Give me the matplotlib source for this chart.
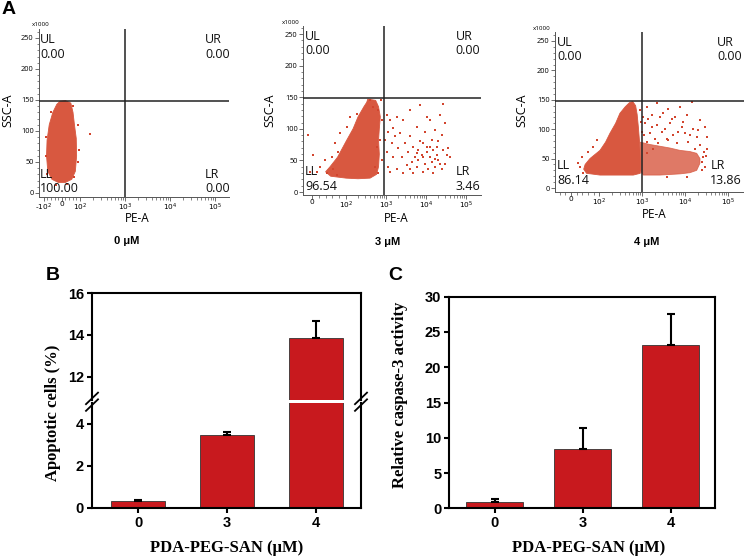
import numpy as np
import matplotlib
matplotlib.use("Agg")
import matplotlib.pyplot as plt
from matplotlib.ticker import FixedLocator, MultipleLocator

W, H = 744, 558

# ---------------- data ----------------
# Panel A: flow cytometry (PE-A vs SSC-A x1000)
conc_labels = ["0 μM", "3 μM", "4 μM"]
quad_ul = ["0.00", "0.00", "0.00"]
quad_ur = ["0.00", "0.00", "0.00"]
quad_ll = ["100.00", "96.54", "86.14"]
quad_lr = ["0.00", "3.46", "13.86"]
gate_ssc = 148
gate_pe = [1000, 910, 1000]

# dense cloud outlines (PE-A, SSC-A)
cloud0_pe = [-10, 20, 50, 62, 70, 80, 82, 75, 55, 20, -20, -55, -78, -85, -82, -70, -50, -28]
cloud0_ssc = [148, 149, 145, 130, 110, 88, 60, 35, 22, 17, 17, 22, 35, 60, 85, 110, 130, 143]

cloud1_pe = [350, 550, 650, 720, 680, 650, 680, 650, 580, 400, 200, 100, 55, 40, 53, 75, 104, 150, 200, 280, 330]
cloud1_ssc = [147, 145, 135, 119, 100, 82, 60, 40, 28, 22, 21, 22, 25, 32, 40, 55, 82, 100, 119, 135, 142]

cloud2_pe = [600, 700, 760, 810, 850, 880, 900, 900, 618, 250, 104, 55, 45, 50, 67, 104, 140, 177, 240, 302, 400, 500]
cloud2_ssc = [147, 140, 125, 104, 85, 70, 45, 25, 22, 22, 22, 25, 32, 40, 50, 64, 78, 93, 110, 127, 138, 145]

lr2_pe = [900, 1500, 2580, 4400, 7510, 12800, 18400, 22000, 21900, 18400, 12800, 7510, 2580, 1055, 900]
lr2_ssc = [78, 74, 71, 68, 64, 62, 59, 50, 42, 30, 26, 24, 22, 22, 30]

# sparse events (PE-A, SSC-A)
dots0_pe = [167, -90, -88, 95, 92, -62, 60, 88, -80, 30, -30, 70]
dots0_ssc = [95, 60, 90, 70, 110, 130, 140, 50, 30, 14, 13, 25]

dots1_pe = [1040, 1259, 1150, 1525, 1390, 1040, 1850, 2240, 2040, 1525, 1150, 1850, 2470, 2710,
            2990, 1259, 950, 1690, 3980, 7080, 12600, 27100, 22400, 29900, 5840, 9450, 16800,
            3980, 24600, 13900, 8580, 4820, 18500, 3610, 6420, 10400, 15200, 27100, 5300, 7780,
            12600, 18500, 32900, 4390, 6420, 9450, 13900, 20300, 29900, 3290, 5840, 11500, 16800,
            24600, 8580, 4820, 15200, 39800, 10400, 7080, 20300, 36000, 3980, 12600, 8580, 16800,
            5840, 22400, 2710, 10400,
            -11, 4, 14, 24, 43, 38, 63, 73, 58, 77, -6, 640, 780, 708, 585, 780, 640, 530, 398,
            740, 470, 104, 82, 126, 185, 68]
dots1_ssc = [122, 114, 95, 101, 77, 64, 119, 93, 69, 56, 40, 37, 56, 30,
             77, 32, 82, 88, 130, 138, 114, 140, 122, 109, 103, 95, 98,
             88, 90, 82, 77, 72, 72, 64, 66, 64, 66, 66, 56, 58,
             56, 58, 58, 48, 51, 45, 48, 51, 45, 43, 40, 37, 40,
             37, 32, 30, 30, 56, 72, 80, 80, 69, 37, 72, 56, 53,
             61, 45, 114, 119,
             90, 58, 32, 40, 30, 51, 37, 27, 56, 64, 32, 130, 114, 82, 72, 51, 30, 40, 146,
             146, 135, 103, 93, 119, 124, 77]

dots2_pe = [1260, 2150, 4020, 7510, 14000, 1650, 3080, 5750, 10700, 21900, 1150, 2150, 4400,
            8200, 15300, 28600, 1510, 2820, 5260, 9800, 18400, 1260, 2360, 4020, 6280, 11700,
            21900, 1800, 31300, 26200, 28600, 3680, 10700, 960, 1055, 883, 1390, 4820, 8980,
            3370, 6890, 12800, 1970, 3680, 16800, 2580, 1650, 31300, 20000,
            38, 32, 44, 26, 61, 79, 91, 25000, 30000, 24000, 27000, 1100, 1300, 950]
dots2_ssc = [138, 144, 135, 138, 147, 124, 127, 121, 124, 116, 110, 107, 110,
             104, 101, 104, 93, 96, 90, 93, 87, 79, 76, 82, 76, 79,
             73, 67, 67, 53, 36, 19, 19, 96, 121, 133, 118, 118, 113,
             101, 96, 90, 84, 84, 67, 121, 104, 87, 99,
             53, 36, 25, 42, 62, 70, 82, 45, 55, 30, 62, 90, 60, 112]

# Panel B: apoptotic cells (%)
doses = ["0", "3", "4"]
apop_mean = [0.33, 3.46, 13.84]
apop_err = [0.05, 0.13, 0.85]

# Panel C: relative caspase-3 activity
casp_mean = [0.95, 8.37, 23.15]
casp_err = [0.40, 3.00, 4.45]

# ---------------- style ----------------
cloud_col = "#D85840"
dot_col = "#D2452E"
bar_col = "#C8191E"
flow_font = "Open Sans"
axis_grey = "#555555"

fig = plt.figure(figsize=(W / 100, H / 100), dpi=100)


def add_ax(l, t, r, b):
    return fig.add_axes([l / W, 1 - b / H, (r - l) / W, (b - t) / H])


def ftext(x, y, s, **kw):
    return fig.text(x / W, 1 - y / H, s, **kw)


def sup(n):
    return r"$10^{%d}$" % n


flow_specs = [
    dict(box=(39, 29, 229, 197), xlim=(-128, 2.05e5), ylim=(-6.5, 264.5), linscale=0.36,
         xt=[-100, 0, 100, 1e3, 1e4, 1e5], xtl=[r"-$10^{2}$", "0", sup(2), sup(3), sup(4), sup(5)],
         lin_minor=[-80, -60, -40, -20, 20, 40, 60, 80],
         clouds=[(cloud0_pe, cloud0_ssc, cloud_col, 1.0)], dots=(dots0_pe, dots0_ssc),
         ul=(40, 33), ur=(229.5, 33), ll=(40, 168), lr=(229.5, 168),
         pe_lab=(137, 219), ssc_lab=(8, 110), x1000=(32, 25), conc=(127, 241)),
    dict(box=(303, 26, 481, 195), xlim=(-26.5, 2.37e5), ylim=(-4.7, 262.7), linscale=0.765,
         xt=[0, 100, 1e3, 1e4, 1e5], xtl=["0", sup(2), sup(3), sup(4), sup(5)],
         lin_minor=[20, 40, 60, 80],
         clouds=[(cloud1_pe, cloud1_ssc, cloud_col, 1.0)], dots=(dots1_pe, dots1_ssc),
         ul=(305, 30), ur=(480.5, 30), ll=(305, 165), lr=(480.5, 165),
         pe_lab=(396, 218), ssc_lab=(270, 110), x1000=(282, 22), conc=(387.5, 242)),
    dict(box=(555, 32, 744, 192), xlim=(-56.5, 2.32e5), ylim=(-6.8, 265.3), linscale=0.592,
         xt=[0, 100, 1e3, 1e4, 1e5], xtl=["0", sup(2), sup(3), sup(4), sup(5)],
         lin_minor=[-40, -20, 20, 40, 60, 80],
         clouds=[(cloud2_pe, cloud2_ssc, cloud_col, 1.0), (lr2_pe, lr2_ssc, cloud_col, 0.8)],
         dots=(dots2_pe, dots2_ssc),
         ul=(557, 36), ur=(742, 36), ll=(557, 159), lr=(742, 159),
         pe_lab=(654, 215), ssc_lab=(522, 110), x1000=(533, 29), conc=(647, 242)),
]

minor_log = [k * 10 ** d for d in (2, 3, 4) for k in range(2, 10)]

for i, sp in enumerate(flow_specs):
    ax = add_ax(*sp["box"])
    ax.set_xscale("symlog", linthresh=100, linscale=sp["linscale"])
    ax.set_xlim(*sp["xlim"])
    ax.set_ylim(*sp["ylim"])
    for pe, ssc, col, a in sp["clouds"]:
        ax.fill(pe, ssc, color=col, alpha=a, lw=0.6, zorder=2)
    ax.scatter(sp["dots"][0], sp["dots"][1], s=2.2, marker="s", color=dot_col,
               linewidths=0, zorder=3)
    ax.axhline(gate_ssc, color="#222222", lw=1.1, zorder=4)
    ax.axvline(gate_pe[i], color="#222222", lw=1.1, zorder=4)
    for s in ("top", "right"):
        ax.spines[s].set_visible(False)
    for s in ("left", "bottom"):
        ax.spines[s].set_color(axis_grey)
        ax.spines[s].set_linewidth(0.7)
    ax.xaxis.set_major_locator(FixedLocator(sp["xt"]))
    ax.set_xticklabels(sp["xtl"])
    ax.xaxis.set_minor_locator(FixedLocator(sp["lin_minor"] + minor_log))
    ax.yaxis.set_major_locator(MultipleLocator(50))
    ax.yaxis.set_minor_locator(MultipleLocator(10))
    ax.tick_params(which="major", length=3.0, width=0.6, color=axis_grey, labelsize=5.3, pad=0.8)
    ax.tick_params(axis="x", which="major", pad=0.2)
    ax.tick_params(which="minor", length=1.8, width=0.5, color=axis_grey)
    for lab in ax.get_yticklabels():
        lab.set_fontfamily(flow_font)
    ax.patch.set_alpha(0)

    qkw = dict(fontsize=9, family=flow_font, va="top", linespacing=1.15, color="#111111")
    ftext(*sp["ul"], "UL\n" + quad_ul[i], ha="left", **qkw)
    ftext(*sp["ur"], "UR\n" + quad_ur[i], ha="right", multialignment="left", **qkw)
    ftext(*sp["ll"], "LL\n" + quad_ll[i], ha="left", **qkw)
    ftext(*sp["lr"], "LR\n" + quad_lr[i], ha="right", multialignment="left", **qkw)
    ftext(*sp["pe_lab"], "PE-A", ha="center", va="center", fontsize=8.5, family=flow_font)
    ftext(*sp["ssc_lab"], "SSC-A", ha="center", va="center", rotation=90, fontsize=9,
          family=flow_font)
    ftext(*sp["x1000"], "x1000", ha="left", va="center", fontsize=4.5, family=flow_font)
    ftext(*sp["conc"], conc_labels[i], ha="center", va="center", fontsize=8,
          family="Liberation Sans", weight="bold")

ftext(2, 1, "A", ha="left", va="top", fontsize=14, family="Liberation Sans", weight="bold")
ftext(46, 267, "B", ha="left", va="top", fontsize=14, family="Liberation Sans", weight="bold")
ftext(388, 267, "C", ha="left", va="top", fontsize=14, family="Liberation Sans", weight="bold")

# ---------------- bar panels ----------------
xpos = np.arange(len(doses))
tick_font = dict(family="Liberation Sans", weight="bold", size=10.5)
lab_font = dict(family="Liberation Serif", weight="bold", size=12)
SPW = 1.5


def style_bar_ax(ax, show_x=True):
    for s in ax.spines.values():
        s.set_linewidth(SPW)
        s.set_color("black")
    ax.tick_params(axis="y", direction="out", length=3.8, width=SPW, pad=2)
    if show_x:
        ax.tick_params(axis="x", direction="out", length=3.8, width=SPW, pad=2)
    else:
        ax.tick_params(axis="x", bottom=False, labelbottom=False)
    for lab in ax.get_yticklabels() + ax.get_xticklabels():
        lab.set_fontproperties(matplotlib.font_manager.FontProperties(**tick_font))


def draw_bars(ax, means, errs, width):
    ax.bar(xpos, means, width=width, color=bar_col, edgecolor="#333333", linewidth=0.6, zorder=2)
    ax.errorbar(xpos, means, yerr=[np.zeros(len(errs)), errs], fmt="none", ecolor="black",
                elinewidth=1.5, capsize=3, capthick=1.5, zorder=3)


# B (broken axis)
axB_top = add_ax(92, 293.3, 361, 400)
axB_bot = add_ax(92, 403.3, 361, 507.7)
for ax in (axB_top, axB_bot):
    draw_bars(ax, apop_mean, apop_err, 0.61)
    ax.set_xlim(-0.517, 2.506)
axB_top.set_ylim(10.88, 16)
axB_bot.set_ylim(0, 4.97)
axB_top.set_yticks([12, 14, 16])
axB_bot.set_yticks([0, 2, 4])
axB_bot.set_xticks(xpos)
axB_bot.set_xticklabels(doses)
axB_top.set_xticks(xpos)
axB_top.spines["bottom"].set_visible(False)
axB_bot.spines["top"].set_visible(False)
style_bar_ax(axB_top, show_x=False)
style_bar_ax(axB_bot, show_x=True)

# break marks
for xa in (0, 1):
    for dy in (-0.006, 0.006):
        fig.add_artist(plt.Line2D(
            [(92 + xa * 269 - 6) / W, (92 + xa * 269 + 6) / W],
            [1 - (404.5 + 3) / H + dy, 1 - (399 - 3) / H + dy],
            color="black", lw=1.3, transform=fig.transFigure))

ftext(53, 413, "Apoptotic cells (%)", ha="center", va="center", rotation=90,
      family=lab_font["family"], weight=lab_font["weight"], fontsize=lab_font["size"])
ftext(226.7, 548, "PDA-PEG-SAN (μM)", ha="center", va="center",
      family=lab_font["family"], weight=lab_font["weight"], fontsize=lab_font["size"])

# C
axC = add_ax(449.3, 296.7, 714.7, 508.3)
draw_bars(axC, casp_mean, casp_err, 0.65)
axC.set_xlim(-0.514, 2.50)
axC.set_ylim(0, 30)
axC.set_yticks([0, 5, 10, 15, 20, 25, 30])
axC.set_xticks(xpos)
axC.set_xticklabels(doses)
style_bar_ax(axC, show_x=True)

ftext(400, 395, "Relative caspase-3 activity", ha="center", va="center", rotation=90,
      family=lab_font["family"], weight=lab_font["weight"], fontsize=lab_font["size"])
ftext(588.7, 548, "PDA-PEG-SAN (μM)", ha="center", va="center",
      family=lab_font["family"], weight=lab_font["weight"], fontsize=lab_font["size"])

fig.savefig("out.png", dpi=100)
